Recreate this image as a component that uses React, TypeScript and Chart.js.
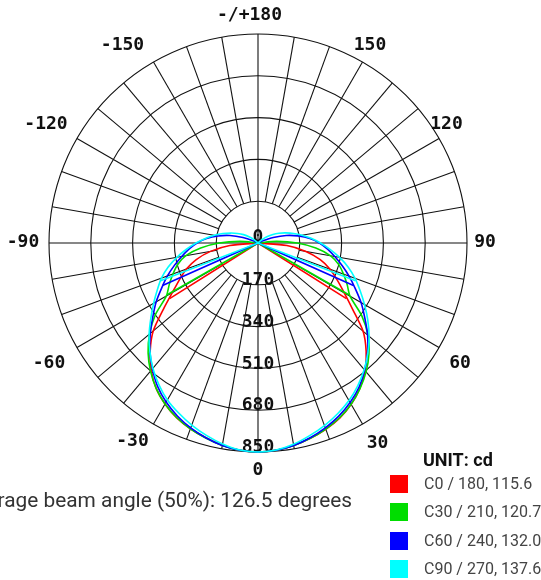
import React, { useEffect, useRef } from 'react';
import { Chart, registerables } from 'chart.js';

Chart.register(...registerables);

// ---- data ----
const GAMMA = [0, 5, 10, 15, 20, 25, 30, 35, 40, 45, 50, 55, 60, 65, 70, 75, 80, 85, 90,
  95, 100, 105, 110, 115, 120, 125, 130, 135, 140, 145, 150, 155, 160, 165, 170, 175, 180];

// intensities in cd, one value per GAMMA entry
const C0 = [850, 846, 836, 822, 806, 786, 758, 722, 678, 622, 558, 470, 405, 355, 312, 262, 198, 118, 0,
  0, 0, 0, 0, 0, 0, 0, 0, 0, 0, 0, 0, 0, 0, 0, 0, 0, 0];
const C180 = [850, 846, 835, 820, 804, 784, 756, 722, 676, 620, 556, 470, 402, 352, 310, 260, 196, 115, 0,
  0, 0, 0, 0, 0, 0, 0, 0, 0, 0, 0, 0, 0, 0, 0, 0, 0, 0];
const C30 = [850, 846, 836, 822, 805, 784, 757, 723, 684, 638, 584, 515, 432, 400, 370, 340, 300, 236, 160,
  76, 0, 0, 0, 0, 0, 0, 0, 0, 0, 0, 0, 0, 0, 0, 0, 0, 0];
const C210 = [850, 846, 836, 821, 804, 783, 756, 722, 680, 632, 576, 510, 430, 398, 368, 338, 298, 234, 158,
  74, 0, 0, 0, 0, 0, 0, 0, 0, 0, 0, 0, 0, 0, 0, 0, 0, 0];
const C60 = [850, 846, 836, 820, 800, 777, 749, 716, 675, 630, 582, 530, 484, 436, 394, 354, 317, 284, 250,
  212, 166, 119, 66, 22, 0, 0, 0, 0, 0, 0, 0, 0, 0, 0, 0, 0, 0];
const C240 = [850, 846, 836, 820, 800, 776, 747, 712, 668, 622, 572, 522, 478, 432, 392, 352, 315, 282, 248,
  210, 165, 118, 65, 22, 0, 0, 0, 0, 0, 0, 0, 0, 0, 0, 0, 0, 0];
const C90 = [850, 845, 831, 811, 790, 766, 740, 708, 672, 632, 590, 545, 500, 458, 420, 380, 337, 294, 254,
  217, 182, 150, 120, 94, 70, 44, 19, 0, 0, 0, 0, 0, 0, 0, 0, 0, 0];
const C270 = [850, 845, 830, 810, 788, 763, 737, 703, 665, 622, 578, 532, 490, 452, 418, 378, 335, 292, 252,
  215, 180, 148, 118, 92, 68, 42, 18, 0, 0, 0, 0, 0, 0, 0, 0, 0, 0];

const SERIES_NAMES = ['C0 / 180', 'C30 / 210', 'C60 / 240', 'C90 / 270'];
const SERIES_RIGHT = [C0, C30, C60, C90];
const SERIES_LEFT = [C180, C210, C240, C270];
const BEAM_ANGLES = [115.6, 120.7, 132.0, 137.6];
const AVERAGE_BEAM = 126.5;

const RING_TICKS = [0, 170, 340, 510, 680, 850];
const SPOKE_STEP = 10;
const ANGLE_TICK_LABELS = ['-/+180', '150', '120', '90', '60', '30', '0', '-30', '-60', '-90', '-120', '-150'];

// ---- styles / layout (not data) ----
const COLORS = ['#ff0000', '#00dd00', '#0000ff', '#00ffff'];
const GRID_COLOR = '#111';
const AXIS_FONT = 'bold 18px "DejaVu Sans Mono"';
// text centres of the angle labels, relative to the polar centre (px)
const ANGLE_LABEL_POS: Record<string, [number, number]> = {
  '-/+180': [-8.5, -228],
  '150': [112, -197.5],
  '120': [188.5, -119],
  '90': [227, -1],
  '60': [202, 120],
  '30': [119.5, 200],
  '0': [0, 227],
  '-30': [-125.5, 198],
  '-60': [-209, 120],
  '-90': [-235, -1],
  '-120': [-212, -119],
  '-150': [-135.5, -197.5],
};

const RMAX = RING_TICKS[RING_TICKS.length - 1];

function polar(gammaDeg: number, value: number) {
  const a = (gammaDeg * Math.PI) / 180;
  return { x: value * Math.sin(a), y: -value * Math.cos(a) };
}

function loopPoints(left: number[], right: number[]) {
  const pts: { x: number; y: number }[] = [];
  for (let i = GAMMA.length - 1; i >= 1; i--) pts.push(polar(-GAMMA[i], left[i]));
  for (let i = 0; i < GAMMA.length; i++) pts.push(polar(GAMMA[i], right[i]));
  return pts;
}

const polarGrid = {
  id: 'polarGrid',
  beforeDatasetsDraw(chart: any) {
    const ctx = chart.ctx as CanvasRenderingContext2D;
    const xs = chart.scales.x;
    const ys = chart.scales.y;
    const cx = xs.getPixelForValue(0);
    const cy = ys.getPixelForValue(0);
    const rpx = (v: number) => xs.getPixelForValue(v) - cx;
    const pt = (g: number, v: number) => {
      const p = polar(g, v);
      return [xs.getPixelForValue(p.x), ys.getPixelForValue(p.y)];
    };
    ctx.save();
    ctx.strokeStyle = GRID_COLOR;
    ctx.lineWidth = 1.1;
    // rings
    RING_TICKS.forEach((v) => {
      if (v <= 0) return;
      ctx.beginPath();
      ctx.arc(cx, cy, rpx(v), 0, Math.PI * 2);
      ctx.stroke();
    });
    // spokes
    for (let g = -180; g < 180; g += SPOKE_STEP) {
      const inner = g % 90 === 0 ? 0 : RING_TICKS[1];
      const [x1, y1] = pt(g, inner);
      const [x2, y2] = pt(g, RMAX);
      ctx.beginPath();
      ctx.moveTo(x1, y1);
      ctx.lineTo(x2, y2);
      ctx.stroke();
    }
    // ring labels
    ctx.fillStyle = '#111';
    ctx.font = AXIS_FONT;
    ctx.textAlign = 'center';
    ctx.textBaseline = 'middle';
    RING_TICKS.forEach((v) => {
      const y = v === 0 ? cy - 6 : ys.getPixelForValue(-v) - 4.5;
      ctx.fillText(String(v), cx, y);
    });
    // angle labels
    ANGLE_TICK_LABELS.forEach((lab) => {
      const [dx, dy] = ANGLE_LABEL_POS[lab];
      ctx.fillText(lab, cx + dx, cy + dy);
    });
    ctx.restore();
  },
};

export default function App() {
  const ref = useRef<HTMLCanvasElement>(null);

  useEffect(() => {
    const datasets: any[] = [];
    SERIES_NAMES.forEach((name, i) => {
      const left = SERIES_LEFT[i];
      const right = SERIES_RIGHT[i];
      const imax = Math.max(...left, ...right);
      const half = BEAM_ANGLES[i] / 2;
      datasets.push({
        label: name,
        data: loopPoints(left, right),
        showLine: true,
        tension: 0.25,
        borderColor: COLORS[i],
        backgroundColor: COLORS[i],
        borderWidth: 1.6,
        pointRadius: 0,
        fill: false,
        clip: false,
        order: 10 - i,
      });
      datasets.push({
        label: name + ' beam',
        data: [polar(-half, imax / 2), { x: 0, y: 0 }, polar(half, imax / 2)],
        showLine: true,
        borderColor: COLORS[i],
        borderWidth: 1.6,
        pointRadius: 0,
        fill: false,
        clip: false,
        order: 10 - i,
      });
    });

    const chart = new Chart(ref.current as HTMLCanvasElement, {
      type: 'scatter',
      data: { datasets },
      options: {
        animation: false,
        responsive: false,
        devicePixelRatio: 1,
        layout: { padding: { left: 49, right: 74, top: 34, bottom: 128 } },
        scales: {
          x: { type: 'linear', min: -RMAX, max: RMAX, display: false },
          y: { type: 'linear', min: -RMAX, max: RMAX, display: false },
        },
        plugins: {
          legend: { display: false },
          tooltip: { enabled: false },
        },
      },
      plugins: [polarGrid],
    });
    return () => chart.destroy();
  }, []);

  return (
    <div style={{ position: 'fixed', left: 0, top: 0, width: 541, height: 580, background: '#fff', overflow: 'hidden' }}>
      <canvas ref={ref} width={541} height={580} style={{ position: 'absolute', left: 0, top: 0 }} />
      <div
        style={{
          position: 'absolute',
          right: 189,
          top: 487.7,
          whiteSpace: 'nowrap',
          font: '20.85px Roboto',
          lineHeight: '24px',
          color: '#333',
        }}
      >
        {`Average beam angle (50%): ${AVERAGE_BEAM} degrees`}
      </div>
      <div
        style={{
          position: 'absolute',
          left: 423,
          top: 449.5,
          font: 'bold 18px Roboto',
          lineHeight: '20px',
          color: '#111',
          whiteSpace: 'nowrap',
        }}
      >
        UNIT: cd
      </div>
      {SERIES_NAMES.map((name, i) => (
        <div key={name} style={{ position: 'absolute', left: 390, top: 475 + i * 28.4, height: 18 }}>
          <div style={{ position: 'absolute', left: 0, top: 0, width: 18, height: 18, background: COLORS[i] }} />
          <div
            style={{
              position: 'absolute',
              left: 34,
              top: 0,
              font: '16px Roboto',
              lineHeight: '18px',
              color: '#444',
              whiteSpace: 'nowrap',
            }}
          >
            {`${name}, ${BEAM_ANGLES[i].toFixed(1)}`}
          </div>
        </div>
      ))}
    </div>
  );
}
